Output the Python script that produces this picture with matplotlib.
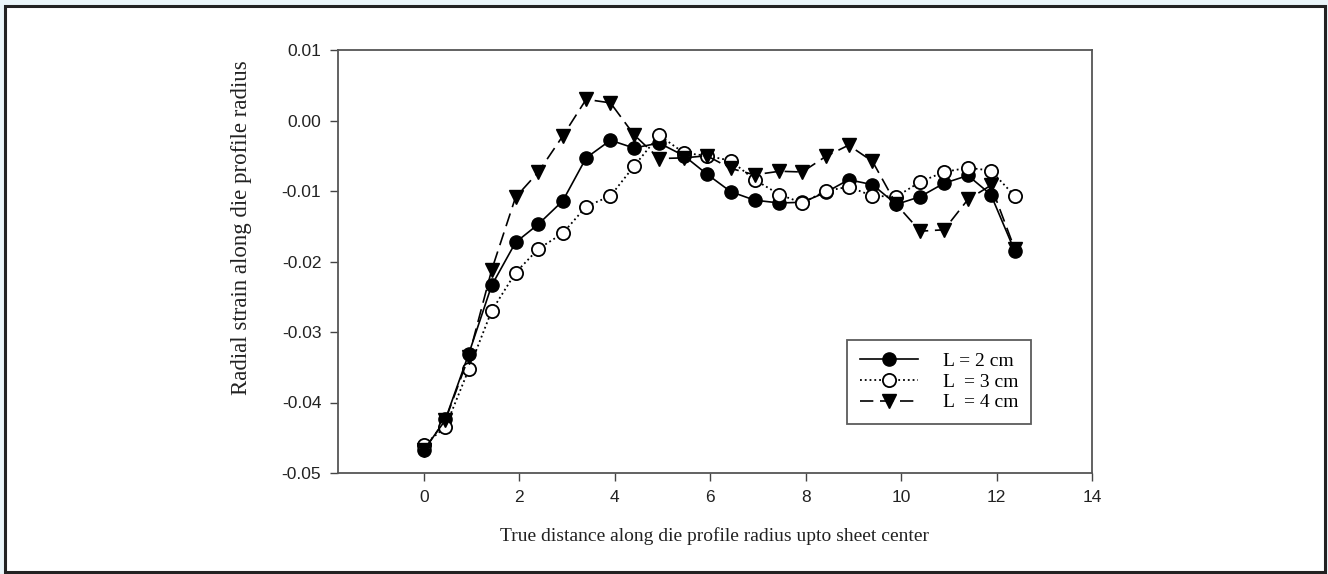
import numpy as np
import matplotlib
matplotlib.use('Agg')
import matplotlib.pyplot as plt
from matplotlib.patches import Rectangle

# 数据
x = [0, 0.45, 0.94, 1.42, 1.92, 2.40, 2.91, 3.40, 3.91, 4.40, 4.93, 5.45, 5.93,
     6.43, 6.93, 7.45, 7.93, 8.42, 8.90, 9.40, 9.90, 10.40, 10.90, 11.40, 11.88, 12.38]
l2 = [-0.0468, -0.0424, -0.0331, -0.0234, -0.0173, -0.0147, -0.0114, -0.0053, -0.0028,
      -0.0039, -0.0032, -0.0050, -0.0076, -0.0101, -0.0113, -0.0117, -0.0116, -0.0102,
      -0.0084, -0.0091, -0.0119, -0.0108, -0.0089, -0.0078, -0.0105, -0.0185]
l3 = [-0.0460, -0.0435, -0.0353, -0.0270, -0.0216, -0.0182, -0.0160, -0.0122, -0.0107,
      -0.0065, -0.0021, -0.0046, -0.0050, -0.0057, -0.0084, -0.0105, -0.0117, -0.0100,
      -0.0094, -0.0107, -0.0108, -0.0087, -0.0073, -0.0067, -0.0071, -0.0107]
l4 = [-0.0467, -0.0425, -0.0335, -0.0212, -0.0109, -0.0073, -0.0022, 0.0030, 0.0025,
      -0.0020, -0.0054, -0.0053, -0.0050, -0.0068, -0.0077, -0.0072, -0.0073, -0.0051,
      -0.0035, -0.0058, -0.0119, -0.0157, -0.0155, -0.0112, -0.0092, -0.0182]
labels = ['L = 2 cm', 'L  = 3 cm', 'L  = 4 cm']
xticks = [0, 2, 4, 6, 8, 10, 12, 14]
yticks = [-0.05, -0.04, -0.03, -0.02, -0.01, 0.00, 0.01]

fig = plt.figure(figsize=(13.28, 5.74), dpi=100, facecolor='#eaf5f9')
# 外框
fig.patches.append(Rectangle((5 / 1328, 2 / 574), 1320 / 1328, 566 / 574,
                             transform=fig.transFigure, facecolor='white',
                             edgecolor='#222222', linewidth=2.2, zorder=-10))

ax = fig.add_axes([338 / 1328, 1 - 473 / 574, (1092 - 338) / 1328, (473 - 50) / 574])

ax.plot(x, l2, color='black', linestyle='-', linewidth=1.2, marker='o', markersize=9.5,
        markerfacecolor='black', markeredgecolor='black', label=labels[0])
ax.plot(x, l3, color='black', linestyle=':', linewidth=1.3, marker='o', markersize=9.5,
        markerfacecolor='white', markeredgecolor='black', markeredgewidth=1.3, label=labels[1])
ax.plot(x, l4, color='black', linestyle=(0, (8, 4)), linewidth=1.2, marker='v', markersize=10.5,
        markerfacecolor='black', markeredgecolor='black', label=labels[2])

ax.set_xlim(-1.8, 14)
ax.set_ylim(-0.05, 0.01)
ax.set_xticks(xticks)
ax.set_xticklabels([str(t) for t in xticks])
ax.set_yticks(yticks)
ax.set_yticklabels(['%.2f' % t for t in yticks])
ax.tick_params(direction='out', length=6, width=1, color='#444444',
               labelsize=12.5, labelcolor='#222222', pad=6)
for lab in ax.get_xticklabels() + ax.get_yticklabels():
    lab.set_family('Liberation Sans')
for s in ax.spines.values():
    s.set_color('#555555')
    s.set_linewidth(1.3)

ax.set_xlabel('True distance along die profile radius upto sheet center',
              family='Liberation Serif', fontsize=14, color='#222222', labelpad=16)
ax.set_ylabel('Radial strain along die profile radius',
              family='Liberation Serif', fontsize=16.5, color='#222222')
ax.yaxis.set_label_coords((252 - 338) / 754, 1 - (228 - 50) / 423)

leg = ax.legend(loc='upper left', bbox_to_anchor=((847 - 338) / 754, 1 - (340 - 50) / 423),
                prop={'family': 'Liberation Serif', 'size': 14}, frameon=True, fancybox=False,
                edgecolor='#333333', handlelength=3.0, borderpad=0.65, labelspacing=0.15,
                handletextpad=1.3, borderaxespad=0)
leg.get_frame().set_linewidth(1.3)

plt.savefig('out.png', dpi=100, facecolor=fig.get_facecolor())
